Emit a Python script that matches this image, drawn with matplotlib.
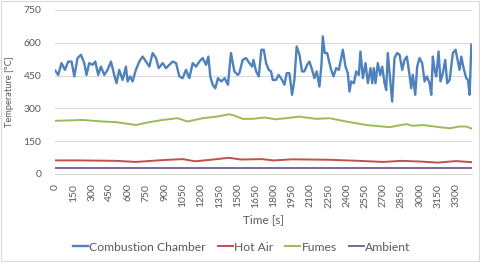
import matplotlib
matplotlib.use("Agg")
import matplotlib.pyplot as plt
from matplotlib.patches import Rectangle

plt.rcParams['font.family'] = ['Lato', 'DejaVu Sans']

# data
combustion_t = [0, 25, 52, 80, 107, 135, 157, 184, 212, 239,
                258, 280, 308, 330, 354, 376, 404, 431, 459, 486,
                505, 527, 555, 582, 596, 618, 637, 664, 692, 720,
                747, 775, 802, 830, 852, 885, 912, 940, 967, 995,
                1022, 1049, 1077, 1104, 1132, 1159, 1187, 1214, 1242, 1261,
                1277, 1296, 1318, 1340, 1367, 1395, 1422, 1447, 1475, 1502,
                1516, 1544, 1571, 1599, 1621, 1632, 1654, 1676, 1697, 1717,
                1736, 1758, 1777, 1791, 1818, 1840, 1868, 1887, 1906, 1928,
                1950, 1969, 1988, 2011, 2032, 2051, 2074, 2093, 2115, 2134,
                2153, 2175, 2192, 2203, 2219, 2239, 2258, 2272, 2291, 2313,
                2335, 2368, 2390, 2409, 2423, 2437, 2459, 2478, 2500, 2513,
                2533, 2555, 2574, 2596, 2610, 2623, 2637, 2656, 2676, 2692,
                2711, 2725, 2738, 2758, 2774, 2793, 2815, 2835, 2857, 2876,
                2895, 2917, 2931, 2944, 2964, 2980, 2999, 3021, 3041, 3060,
                3082, 3096, 3109, 3123, 3137, 3156, 3172, 3191, 3211, 3227,
                3247, 3274, 3296, 3315, 3329, 3343, 3362, 3384, 3398, 3412,
                3426]
combustion_v = [473, 453, 507, 476, 514, 514, 446, 530, 545, 507,
                453, 507, 499, 514, 453, 491, 453, 476, 514, 453,
                415, 476, 430, 491, 423, 446, 423, 476, 514, 537,
                514, 491, 553, 530, 484, 507, 484, 499, 514, 507,
                446, 438, 476, 438, 507, 491, 514, 530, 499, 537,
                446, 408, 392, 438, 423, 438, 408, 553, 469, 453,
                461, 522, 530, 507, 491, 522, 469, 446, 568, 568,
                507, 476, 469, 430, 430, 453, 430, 408, 461, 461,
                362, 430, 583, 545, 469, 469, 499, 514, 476, 438,
                469, 400, 499, 629, 553, 553, 507, 476, 446, 484,
                476, 568, 491, 461, 377, 423, 415, 469, 453, 560,
                438, 507, 415, 484, 415, 484, 415, 507, 453, 491,
                415, 384, 553, 430, 331, 530, 553, 545, 476, 522,
                537, 453, 392, 453, 362, 491, 530, 507, 423, 446,
                415, 362, 537, 476, 446, 560, 423, 461, 522, 415,
                430, 553, 568, 514, 476, 537, 484, 438, 430, 362,
                591]

hotair_t = [0, 200, 500, 665, 900, 1050, 1150, 1300, 1430, 1530, 1700,
            1800, 1950, 2250, 2500, 2700, 2850, 3000, 3150, 3300, 3426]
hotair_v = [62, 62, 60, 55, 64, 68, 58, 66, 74, 66, 68,
            62, 67, 65, 60, 55, 60, 57, 52, 59, 54]

fumes_t = [0, 225, 390, 500, 665, 775, 884, 1008, 1090, 1214, 1324, 1434,
           1475, 1543, 1626, 1722, 1819, 2011, 2148, 2258, 2395, 2560, 2752,
           2890, 2944, 3027, 3164, 3247, 3329, 3384, 3426]
fumes_v = [243, 247, 240, 237, 224, 237, 247, 255, 240, 255, 262, 273,
           267, 252, 252, 258, 250, 262, 252, 255, 240, 224, 214,
           228, 220, 224, 214, 209, 217, 217, 208]

ambient_t = [0, 1700, 3426]
ambient_v = [27, 27, 27]

xticks = list(range(0, 3301, 150))
yticks = [0, 150, 300, 450, 600, 750]

txt = '#595959'
grid = '#d9d9d9'

fig = plt.figure(figsize=(4.8, 2.62), dpi=100)
ax = fig.add_axes([0.115, 0.336, 0.868, 0.626])

ax.plot(combustion_t, combustion_v, color='#4F81BD', lw=1.7, label='Combustion Chamber')
ax.plot(hotair_t, hotair_v, color='#C0504D', lw=1.4, label='Hot Air')
ax.plot(fumes_t, fumes_v, color='#9BBB59', lw=1.4, label='Fumes')
ax.plot(ambient_t, ambient_v, color='#8064A2', lw=1.4, label='Ambient')

ax.set_xlim(0, 3430)
ax.set_ylim(0, 750)
ax.set_xticks(xticks)
ax.set_xticklabels([str(t) for t in xticks], rotation=90)
ax.set_yticks(yticks)
ax.tick_params(length=0, labelsize=7.5, colors=txt)
ax.tick_params(axis='x', pad=7)
ax.tick_params(axis='y', pad=10)
ax.grid(axis='y', color=grid, lw=0.8)
ax.set_axisbelow(True)
for s in ['top', 'right', 'left']:
    ax.spines[s].set_visible(False)
ax.spines['bottom'].set_color(grid)
ax.spines['bottom'].set_linewidth(0.8)

ax.set_xlabel('Time [s]', fontsize=8.5, color=txt, labelpad=5)
ax.set_ylabel('Temperature [°C]', fontsize=6.7, color=txt, labelpad=7)

fig.legend(loc='center', bbox_to_anchor=(0.503, 0.057), ncol=4, frameon=False,
           fontsize=8.7, labelcolor=txt, handlelength=1.25, handletextpad=0.1,
           columnspacing=1.0)

fig.patches.append(Rectangle((0.002, 0.002), 0.996, 0.995, transform=fig.transFigure,
                             fill=False, edgecolor=grid, lw=0.8))

fig.savefig('out.png', dpi=100)
